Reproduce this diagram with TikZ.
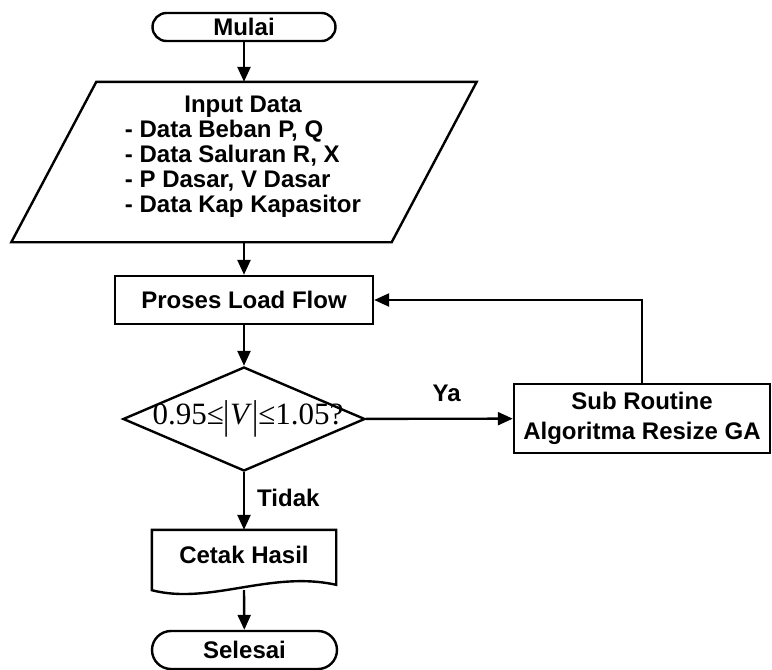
\documentclass[tikz,border=0pt]{standalone}
\usepackage{fontspec}
\setmainfont{Liberation Sans}
\newfontfamily\serifface{Liberation Serif}
\usetikzlibrary{shapes.geometric,arrows.meta,calc}

% tall absolute-value bar
\newcommand{\tallbar}{\raisebox{-0.12em}{\scalebox{1}[1.3]{|}}}

\begin{document}
\begin{tikzpicture}[x=1pt,y=-1pt,
  every node/.style={font=\fontsize{24}{25}\selectfont\bfseries, inner sep=0pt},
  line/.style={line width=2.4pt},
  arr/.style={line width=2.4pt, -{Triangle[length=15pt,width=13pt]}},
  proc/.style={draw, line width=2.4pt, rectangle},
  term/.style={draw, line width=2.4pt, rectangle, rounded corners=#1},
  term/.default=14pt]

\useasboundingbox (0,0) rectangle (772,670);

% start
\node[term, minimum width=183pt, minimum height=28pt] (mulai) at (244,27) {Mulai};

% input parallelogram
\node[minimum width=380pt, minimum height=160pt] (input) at (244,162) {};
\draw[line] ($(input.north west)+(42.5,0)$) -- ($(input.north east)+(42.5,0)$)
  -- ($(input.south east)+(-42.5,0)$) -- ($(input.south west)+(-42.5,0)$) -- cycle;
\node (inputtext) at (243,157) {\begin{tabular}{@{}c@{}}Input Data\\
  \begin{tabular}[t]{@{}l@{}}- Data Beban P, Q\\
  - Data Saluran R, X\\
  - P Dasar, V Dasar\\
  - Data Kap Kapasitor\end{tabular}\end{tabular}};

% load flow
\node[proc, minimum width=258pt, minimum height=48pt] (proses) at (244,300) {Proses Load Flow};

% decision
\node[diamond, draw, line width=2.4pt, minimum width=242pt, minimum height=104pt, aspect=2.33] (cond) at (244,419) {};
\node[font=\serifface\fontsize{31}{31}\selectfont] (condtext) at (248,419) {0.95≤\tallbar\textit{V}\tallbar≤1.05?};

% sub routine
\node[proc, minimum width=256pt, minimum height=69pt, align=center] (sub) at (642,418.5)
  {Sub Routine\\[5pt]Algoritma Resize GA};

% output document
\node[minimum width=184pt, minimum height=60pt] (cetak) at (244,560) {};
\draw[line] (cetak.north west) -- (cetak.north east) -- ($(cetak.north east)+(0,55)$)
  .. controls ($(cetak.south)+(26,-20)$) and ($(cetak.south)+(-34,15)$) .. (cetak.south west) -- cycle;
\node (cetaktext) at (244,555) {Cetak Hasil};

% end
\node[term=19pt, minimum width=185pt, minimum height=38pt] (selesai) at (244.5,650) {Selesai};

% connectors
\draw[arr] (mulai) -- (input);
\draw[arr] (input) -- (proses);
\draw[arr] (proses) -- (cond);
\draw[arr] (cond) -- node[pos=0.55, above=16pt] {Ya} (sub);
\draw[arr] (sub.north) |- (proses.east);
\draw[arr] (cond) -- node[pos=0.44, anchor=west, xshift=12pt] {Tidak} (cetak);
\draw[arr] (cetak.south) -- (selesai);
\end{tikzpicture}
\end{document}
